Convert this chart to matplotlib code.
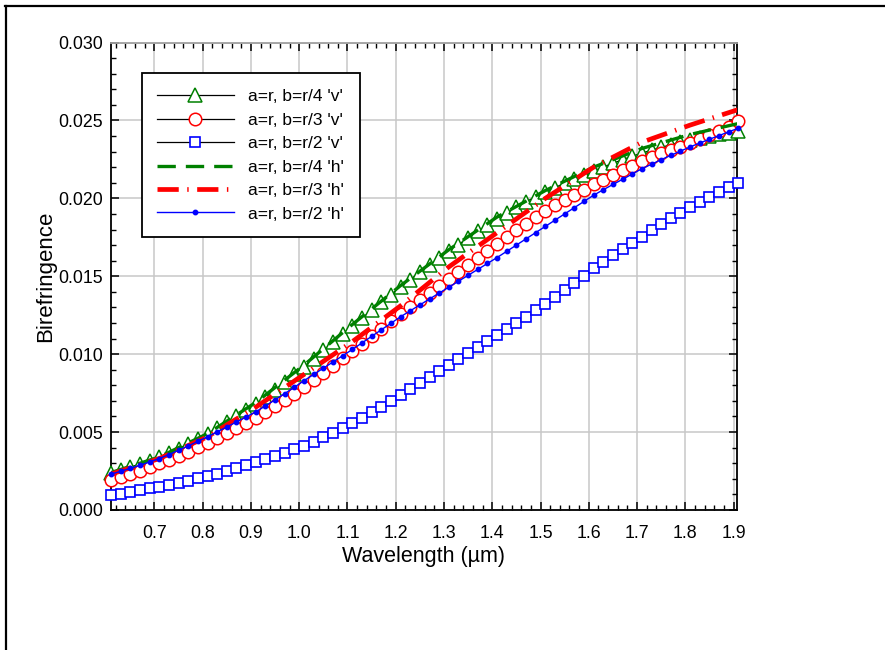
import matplotlib
matplotlib.use('Agg')
import matplotlib.pyplot as plt
from matplotlib.lines import Line2D
from matplotlib.ticker import MultipleLocator, FormatStrFormatter

plt.rcParams['font.family'] = ['Liberation Sans', 'DejaVu Sans']

# wavelength grid of the marker series (um)
wavelength = [0.61, 0.63, 0.65, 0.67, 0.69, 0.71, 0.73, 0.75, 0.77, 0.79,
              0.81, 0.83, 0.85, 0.87, 0.89, 0.91, 0.93, 0.95, 0.97, 0.99,
              1.01, 1.03, 1.05, 1.07, 1.09, 1.11, 1.13, 1.15, 1.17, 1.19,
              1.21, 1.23, 1.25, 1.27, 1.29, 1.31, 1.33, 1.35, 1.37, 1.39,
              1.41, 1.43, 1.45, 1.47, 1.49, 1.51, 1.53, 1.55, 1.57, 1.59,
              1.61, 1.63, 1.65, 1.67, 1.69, 1.71, 1.73, 1.75, 1.77, 1.79,
              1.81, 1.83, 1.85, 1.87, 1.89, 1.91]

# a=r, b=r/4 'v'
b4_v = [0.00240, 0.00257, 0.00275, 0.00295, 0.00316, 0.00340, 0.00367, 0.00394, 0.00423, 0.00455,
        0.00490, 0.00525, 0.00562, 0.00600, 0.00640, 0.00680, 0.00725, 0.00772, 0.00820, 0.00870,
        0.00920, 0.00972, 0.01024, 0.01076, 0.01128, 0.01180, 0.01231, 0.01282, 0.01332, 0.01382,
        0.01430, 0.01478, 0.01526, 0.01572, 0.01617, 0.01660, 0.01703, 0.01746, 0.01788, 0.01830,
        0.01870, 0.01908, 0.01944, 0.01978, 0.02010, 0.02040, 0.02069, 0.02097, 0.02124, 0.02150,
        0.02176, 0.02201, 0.02225, 0.02248, 0.02270, 0.02290, 0.02309, 0.02327, 0.02344, 0.02360,
        0.02375, 0.02388, 0.02399, 0.02410, 0.02420, 0.02430]

# a=r, b=r/3 'v'
b3_v = [0.00190, 0.00210, 0.00231, 0.00253, 0.00276, 0.00300, 0.00324, 0.00349, 0.00375, 0.00402,
        0.00430, 0.00460, 0.00491, 0.00523, 0.00556, 0.00590, 0.00627, 0.00665, 0.00705, 0.00747,
        0.00790, 0.00835, 0.00880, 0.00926, 0.00973, 0.01020, 0.01068, 0.01116, 0.01164, 0.01212,
        0.01260, 0.01305, 0.01349, 0.01393, 0.01437, 0.01480, 0.01526, 0.01572, 0.01618, 0.01664,
        0.01710, 0.01753, 0.01796, 0.01838, 0.01879, 0.01920, 0.01956, 0.01990, 0.02023, 0.02056,
        0.02090, 0.02120, 0.02150, 0.02180, 0.02210, 0.02240, 0.02265, 0.02288, 0.02310, 0.02332,
        0.02355, 0.02380, 0.02405, 0.02430, 0.02460, 0.02495]

# a=r, b=r/2 'v'
b2_v = [0.00093, 0.00104, 0.00115, 0.00126, 0.00138, 0.00150, 0.00162, 0.00175, 0.00189, 0.00203,
        0.00218, 0.00234, 0.00251, 0.00269, 0.00288, 0.00308, 0.00327, 0.00347, 0.00368, 0.00390,
        0.00412, 0.00438, 0.00466, 0.00495, 0.00526, 0.00558, 0.00592, 0.00627, 0.00663, 0.00700,
        0.00738, 0.00776, 0.00814, 0.00853, 0.00891, 0.00930, 0.00968, 0.01006, 0.01044, 0.01082,
        0.01120, 0.01160, 0.01200, 0.01240, 0.01281, 0.01322, 0.01366, 0.01411, 0.01457, 0.01503,
        0.01550, 0.01592, 0.01634, 0.01675, 0.01715, 0.01755, 0.01794, 0.01833, 0.01871, 0.01908,
        0.01945, 0.01978, 0.02010, 0.02040, 0.02070, 0.02100]

# a=r, b=r/2 'h'
b2_h = [0.00230, 0.00248, 0.00267, 0.00287, 0.00308, 0.00330, 0.00356, 0.00383, 0.00411, 0.00440,
        0.00470, 0.00501, 0.00533, 0.00565, 0.00597, 0.00630, 0.00668, 0.00707, 0.00747, 0.00788,
        0.00830, 0.00870, 0.00910, 0.00950, 0.00990, 0.01030, 0.01072, 0.01114, 0.01156, 0.01198,
        0.01240, 0.01278, 0.01316, 0.01354, 0.01392, 0.01430, 0.01468, 0.01506, 0.01544, 0.01582,
        0.01620, 0.01660, 0.01700, 0.01740, 0.01780, 0.01820, 0.01860, 0.01900, 0.01940, 0.01980,
        0.02020, 0.02055, 0.02089, 0.02122, 0.02156, 0.02190, 0.02219, 0.02248, 0.02276, 0.02303,
        0.02330, 0.02355, 0.02379, 0.02403, 0.02427, 0.02450]

# coarser grid for the two plain 'h' lines
wavelength_h = [0.61, 0.71, 0.81, 0.91, 1.01, 1.11, 1.21, 1.31, 1.41, 1.51, 1.61, 1.71, 1.81, 1.91]
b4_h = [0.0024, 0.0034, 0.0049, 0.0069, 0.0093, 0.0119, 0.0144, 0.0167, 0.0188, 0.0205,
        0.0220, 0.0232, 0.0241, 0.0248]
b3_h = [0.0023, 0.0033, 0.0047, 0.0066, 0.0087, 0.0108, 0.0131, 0.0156, 0.0178, 0.0200,
        0.0220, 0.0236, 0.0247, 0.0257]

fig = plt.figure(figsize=(8.85, 6.5), dpi=100)
ax = fig.add_axes([0.1254, 0.2154, 0.7073, 0.7192])

# outer frame (top and left only)
fig.add_artist(Line2D([0.006, 1.0], [0.9915, 0.9915], transform=fig.transFigure, color='black', lw=1.6))
fig.add_artist(Line2D([0.0068, 0.0068], [0.0, 0.9915], transform=fig.transFigure, color='black', lw=1.6))

green = '#008000'
red = '#ff0000'
blue = '#0000ff'

ax.plot(wavelength, b4_v, color='black', lw=0.9, marker='^', ms=9.5, mfc='white', mec=green,
        mew=1.1, label="a=r, b=r/4 'v'", clip_on=False, zorder=3)
ax.plot(wavelength, b3_v, color='black', lw=0.9, marker='o', ms=9, mfc='white', mec=red,
        mew=1.1, label="a=r, b=r/3 'v'", clip_on=False, zorder=3)
ax.plot(wavelength, b2_v, color='black', lw=0.9, marker='s', ms=7.8, mfc='white', mec=blue,
        mew=1.2, label="a=r, b=r/2 'v'", clip_on=False, zorder=3)
ax.plot(wavelength_h, b4_h, color=green, lw=2.4, dashes=(5.5, 3), label="a=r, b=r/4 'h'",
        zorder=4)
ax.plot(wavelength_h, b3_h, color=red, lw=3.4, dashes=(4.5, 1.8, 0.3, 1.8), label="a=r, b=r/3 'h'",
        zorder=4)
ax.plot(wavelength, b2_h, color=blue, lw=1.0, marker='o', ms=3.2, mec=blue, mfc=blue,
        label="a=r, b=r/2 'h'", clip_on=False, zorder=5)

ax.set_xlim(0.61, 1.907)
ax.set_ylim(0.0, 0.030)
ax.xaxis.set_major_locator(MultipleLocator(0.1))
ax.xaxis.set_minor_locator(MultipleLocator(0.02))
ax.yaxis.set_major_locator(MultipleLocator(0.005))
ax.yaxis.set_minor_locator(MultipleLocator(0.001))
ax.xaxis.set_major_formatter(FormatStrFormatter('%.1f'))
ax.yaxis.set_major_formatter(FormatStrFormatter('%.3f'))

ax.grid(True, which='major', color='#c8c8c8', lw=1.1, zorder=0)
ax.set_axisbelow(True)

ax.tick_params(which='both', direction='in', top=True, right=True, labelsize=12.8, color='black')
ax.tick_params(which='major', length=6, width=1.1)
ax.tick_params(which='minor', length=3.5, width=1.0)
ax.tick_params(axis='x', pad=11)
ax.tick_params(axis='y', pad=6)

for side in ['left', 'bottom', 'right']:
    ax.spines[side].set_linewidth(1.3)
ax.spines['top'].set_color('#a0a0a0')
ax.spines['top'].set_linewidth(1.3)

ax.set_xlabel('Wavelength (\u00b5m)', fontsize=15.5, labelpad=3)
ax.set_ylabel('Birefringence', fontsize=16, labelpad=1)

leg = ax.legend(loc='upper left', bbox_to_anchor=(0.049, 0.934), fontsize=12.5, frameon=True,
                fancybox=False, edgecolor='black', framealpha=1, borderaxespad=0,
                handlelength=4.4, handletextpad=0.85, labelspacing=0.48, borderpad=0.9,
                numpoints=1)
leg.get_frame().set_linewidth(1.3)

fig.savefig('out.png', dpi=100)
